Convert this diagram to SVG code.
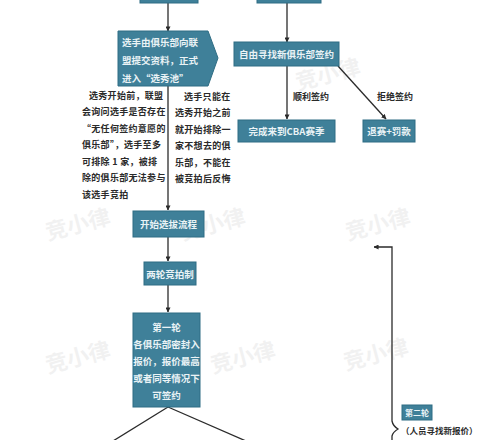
<svg xmlns="http://www.w3.org/2000/svg" width="500" height="440" viewBox="0 0 500 440">
<defs>
<marker id="ah" viewBox="0 0 6 6" refX="5.5" refY="3" markerWidth="5" markerHeight="5" orient="auto" markerUnits="userSpaceOnUse">
<path d="M0,0 L6,3 L0,6 z" fill="#2b2b2b"/>
</marker>
<style>
.box{fill:#3f8099;stroke:#2f6d84;stroke-width:1}
.bt{font-family:"Noto Sans CJK SC","Noto Sans",sans-serif;font-size:9.5px;font-weight:bold;fill:#eaf3f6;text-anchor:middle;dominant-baseline:central}
.bl{font-family:"Noto Sans CJK SC","Noto Sans",sans-serif;font-size:9.5px;font-weight:bold;fill:#eaf3f6;dominant-baseline:central}
.pt{font-family:"Noto Sans CJK SC","Noto Sans",sans-serif;font-size:9px;font-weight:bold;fill:#2a2a2a;dominant-baseline:central;letter-spacing:0.3px}
.lb{font-family:"Noto Sans CJK SC","Noto Sans",sans-serif;font-size:9px;font-weight:bold;fill:#2a2a2a;text-anchor:middle;dominant-baseline:central}
.ln{fill:none;stroke:#2b2b2b;stroke-width:1.3}
.wm{font-family:"Noto Sans CJK SC","Noto Sans",sans-serif;font-size:22px;font-weight:bold;fill:#000;opacity:0.05;text-anchor:middle}
</style>
</defs>
<rect width="500" height="440" fill="#ffffff"/>
<g id="watermarks">
<text class="wm" x="330" y="82" transform="rotate(-15 330 82)">竞小律</text>
<text class="wm" x="215" y="232" transform="rotate(-15 215 232)">竞小律</text>
<text class="wm" x="80" y="232" transform="rotate(-15 80 232)">竞小律</text>
<text class="wm" x="80" y="365" transform="rotate(-15 80 365)">竞小律</text>
<text class="wm" x="245" y="365" transform="rotate(-15 245 365)">竞小律</text>
<text class="wm" x="380" y="232" transform="rotate(-15 380 232)">竞小律</text>
<text class="wm" x="378" y="362" transform="rotate(-15 378 362)">竞小律</text>
</g>
<g id="connectors">
<line class="ln" x1="168" y1="3" x2="168" y2="31" marker-end="url(#ah)"/>
<line class="ln" x1="287" y1="3" x2="287" y2="42" marker-end="url(#ah)"/>
<line class="ln" x1="287" y1="66" x2="287" y2="119" marker-end="url(#ah)"/>
<line class="ln" x1="338" y1="66" x2="386" y2="119" marker-end="url(#ah)"/>
<line class="ln" x1="168" y1="86" x2="168" y2="210" marker-end="url(#ah)"/>
<line class="ln" x1="168" y1="237" x2="168" y2="261" marker-end="url(#ah)"/>
<line class="ln" x1="168" y1="285" x2="168" y2="312" marker-end="url(#ah)"/>
<line class="ln" x1="168" y1="407" x2="113" y2="441"/>
<line class="ln" x1="168" y1="407" x2="246" y2="441"/>
<path class="ln" d="M392,441 V436 Q393,432 398,429 Q393,426 392,421 V247 H374" marker-end="url(#ah)"/>
<text class="lb" x="311" y="96">顺利签约</text>
<text class="lb" x="395" y="96">拒绝签约</text>
</g>
<g id="top-left"><rect class="box" x="140" y="-20" width="58" height="23"/></g>
<g id="top-right"><rect class="box" x="257" y="-20" width="64" height="23"/></g>
<g id="submit">
<path class="box" d="M118,31 H208 L218,58 L208,86 H118 Z"/>
<text class="bl" x="122" y="42">选手由俱乐部向联</text>
<text class="bl" x="122" y="60">盟提交资料，正式</text>
<text class="bl" x="122" y="78">进入“选秀池”</text>
</g>
<g id="free-sign">
<rect class="box" x="234" y="42" width="105" height="24"/>
<text class="bt" x="286.5" y="54">自由寻找新俱乐部签约</text>
</g>
<g id="complete">
<rect class="box" x="238" y="120" width="97" height="22"/>
<text class="bt" x="286.5" y="131">完成来到CBA赛季</text>
</g>
<g id="penalty">
<rect class="box" x="363" y="120" width="52" height="22"/>
<text class="bt" x="389" y="131">退赛+罚款</text>
</g>
<g id="left-note">
<text class="pt" x="89" y="95">选秀开始前，联盟</text>
<text class="pt" x="82" y="111.5">会询问选手是否存在</text>
<text class="pt" x="82" y="128">“无任何签约意愿的</text>
<text class="pt" x="82" y="144.5">俱乐部”，选手至多</text>
<text class="pt" x="82" y="161">可排除 1 家，被排</text>
<text class="pt" x="82" y="177.5">除的俱乐部无法参与</text>
<text class="pt" x="82" y="194">该选手竞拍</text>
</g>
<g id="right-note">
<text class="pt" x="184" y="96">选手只能在</text>
<text class="pt" x="175" y="112.5">选秀开始之前</text>
<text class="pt" x="175" y="129">就开始排除一</text>
<text class="pt" x="175" y="145.5">家不想去的俱</text>
<text class="pt" x="175" y="162">乐部，不能在</text>
<text class="pt" x="175" y="178.5">被竞拍后反悔</text>
</g>
<g id="start">
<rect class="box" x="133" y="211" width="71" height="26"/>
<text class="bt" x="168.5" y="224">开始选拔流程</text>
</g>
<g id="two-rounds">
<rect class="box" x="144" y="262" width="52" height="23"/>
<text class="bt" x="170" y="273.5">两轮竞拍制</text>
</g>
<g id="round1">
<rect class="box" x="133" y="313" width="67" height="94"/>
<text class="bt" x="166.5" y="327">第一轮</text>
<text class="bt" x="166.5" y="344">各俱乐部密封入</text>
<text class="bt" x="166.5" y="361">报价，报价最高</text>
<text class="bt" x="166.5" y="378">或者同等情况下</text>
<text class="bt" x="166.5" y="395">可签约</text>
</g>
<g id="round2">
<rect class="box" x="402" y="405" width="30" height="15"/>
<text class="bt" x="417" y="412.5" style="font-size:8px">第二轮</text>
<text class="pt" x="401" y="430" style="font-size:8.5px;letter-spacing:0">（人员寻找新报价）</text>
</g>
</svg>
